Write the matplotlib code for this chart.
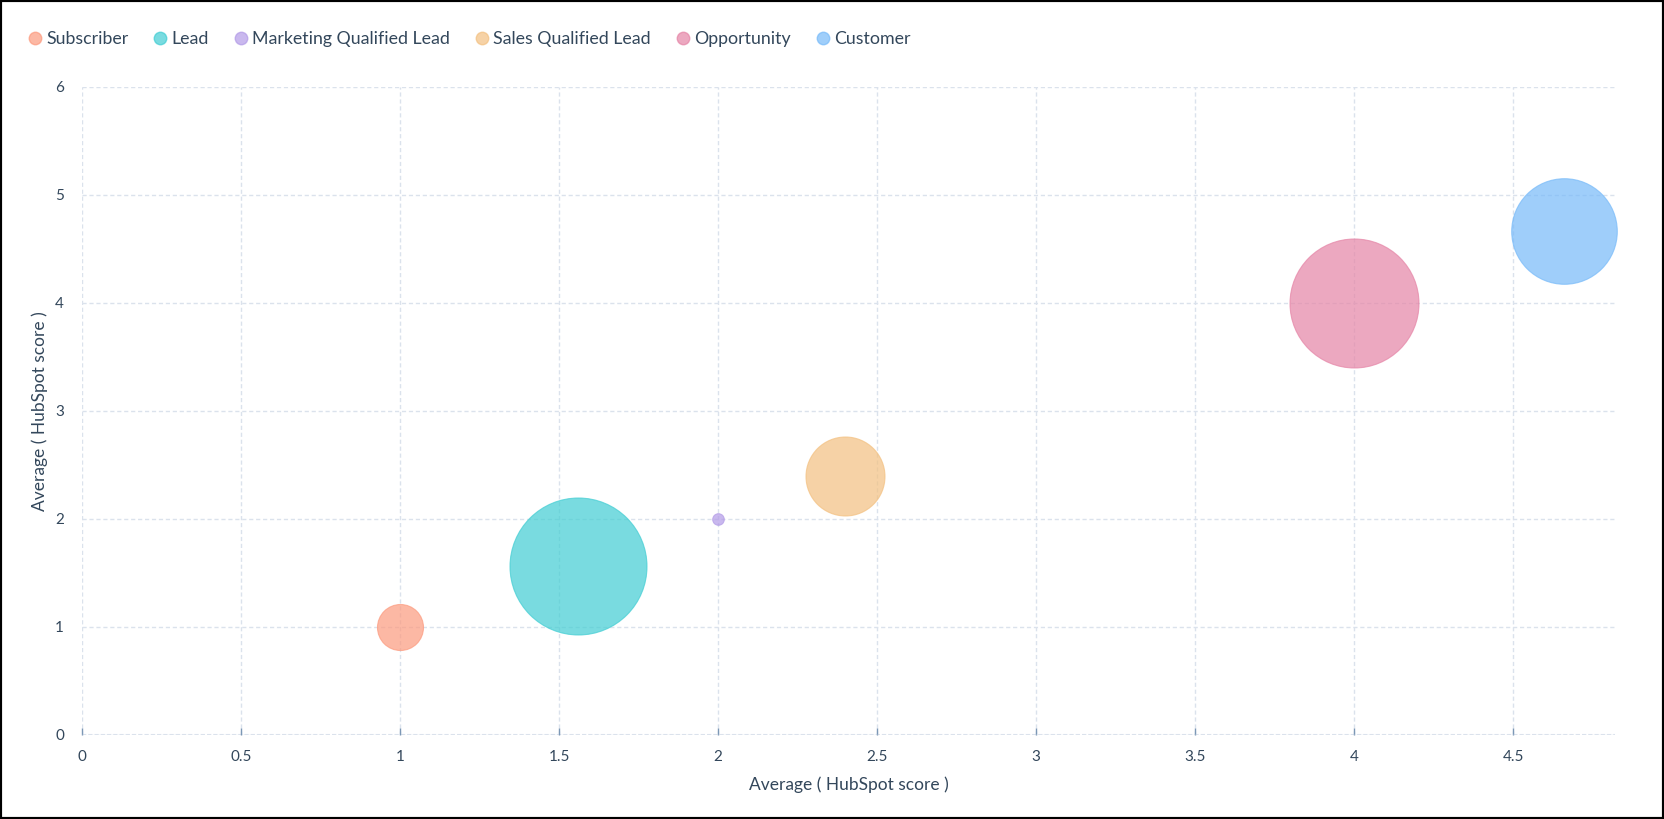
import matplotlib
matplotlib.use("Agg")
import matplotlib.pyplot as plt
from matplotlib.lines import Line2D
from matplotlib.patches import Rectangle

# --- data ---
stages = ["Subscriber", "Lead", "Marketing Qualified Lead",
          "Sales Qualified Lead", "Opportunity", "Customer"]
avg_x = [1.0, 1.56, 2.0, 2.4, 4.0, 4.66]
avg_y = [1.0, 1.56, 2.0, 2.4, 4.0, 4.67]
bubble_value = [23, 68.5, 5.8, 39.5, 64.5, 52.8]
colors = ["#FC9A7E", "#41CDD3", "#B29AE7", "#F3C080", "#E584A6", "#77BAF9"]
x_ticks = [0, 0.5, 1, 1.5, 2, 2.5, 3, 3.5, 4, 4.5]
x_tick_labels = ["0", "0.5", "1", "1.5", "2", "2.5", "3", "3.5", "4", "4.5"]
y_ticks = [0, 1, 2, 3, 4, 5, 6]

plt.rcParams['font.family'] = ['Lato', 'DejaVu Sans']
text_col = "#33475b"
grid_col = "#dbe2ec"

DPI = 100
fig = plt.figure(figsize=(16.64, 8.19), dpi=DPI)
ax = fig.add_axes([0.0493, 0.1026, 0.9213, 0.7912])

# bubble radius (px) -> scatter area in pt^2
sizes = [(2 * v * 72 / DPI) ** 2 for v in bubble_value]
for i in range(len(stages)):
    ax.scatter(avg_x[i], avg_y[i], s=sizes[i], color=colors[i], alpha=0.7,
               edgecolors=colors[i], linewidths=0.8, zorder=3, clip_on=False)

ax.set_xlim(0, 4.82)
ax.set_ylim(0, 6)
ax.set_xticks(x_ticks)
ax.set_xticklabels(x_tick_labels)
ax.set_yticks(y_ticks)

ax.grid(True, color=grid_col, linestyle=(0, (3, 2)), linewidth=1, zorder=0)
for s in ax.spines.values():
    s.set_visible(False)
ax.axhline(0, color=grid_col, linestyle=(0, (2, 1)), linewidth=1.5, zorder=1)

ax.tick_params(axis='x', direction='in', length=5, width=1, color="#7c98b6",
               labelcolor=text_col, labelsize=11, pad=11)
ax.tick_params(axis='y', length=0, labelcolor=text_col, labelsize=11, pad=13)

ax.set_xlabel("Average ( HubSpot score )", color=text_col, fontsize=12.5, labelpad=9)
ax.set_ylabel("Average ( HubSpot score )", color=text_col, fontsize=12.5, labelpad=5)

handles = [Line2D([], [], marker='o', linestyle='none', markersize=9,
                  markerfacecolor=c, markeredgecolor=c, alpha=0.7) for c in colors]
fig.legend(handles, stages, loc='upper left', bbox_to_anchor=(0.005, 0.982),
           ncol=6, frameon=False, fontsize=12.8, handletextpad=0.03,
           columnspacing=1.2, labelcolor=text_col, handlelength=1.2)

fig.patches.append(Rectangle((0, 0), 1, 1, transform=fig.transFigure,
                             fill=False, edgecolor="black", linewidth=3))

fig.savefig("out.png", dpi=DPI)
